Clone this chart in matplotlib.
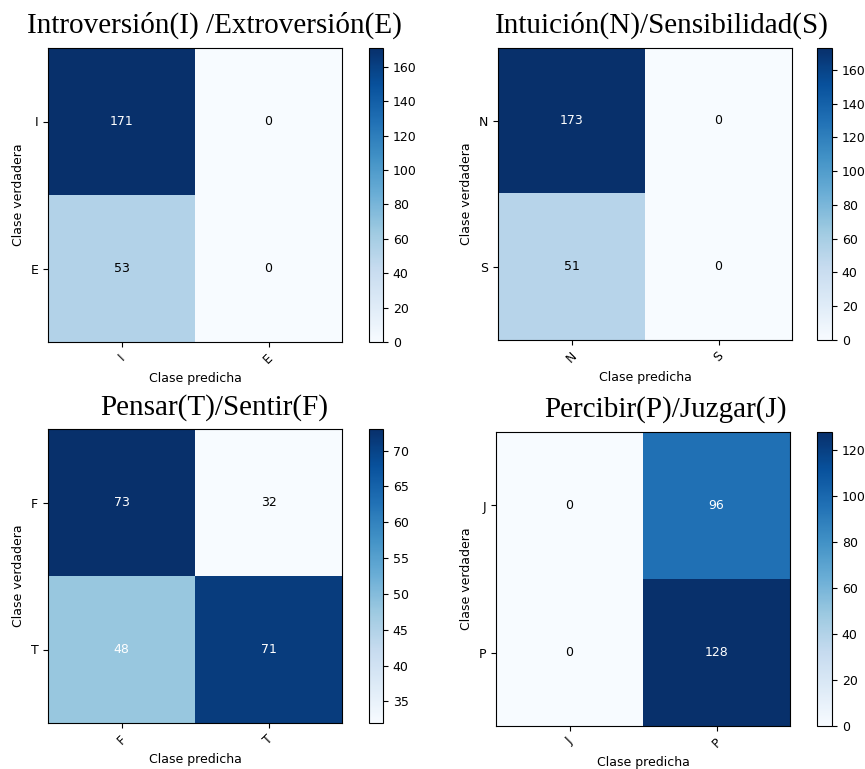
import numpy as np
import matplotlib
matplotlib.use("Agg")
import matplotlib.pyplot as plt

# confusion matrices for the four MBTI axes (rows: true, cols: predicted)
titles = ["Introversión(I) /Extroversión(E)",
          "Intuición(N)/Sensibilidad(S)",
          "Pensar(T)/Sentir(F)",
          "Percibir(P)/Juzgar(J)"]
classes_ie = ["I", "E"]
classes_ns = ["N", "S"]
classes_tf = ["F", "T"]
classes_jp = ["J", "P"]
cm_ie = [[171, 0], [53, 0]]
cm_ns = [[173, 0], [51, 0]]
cm_tf = [[73, 32], [48, 71]]
cm_jp = [[0, 96], [0, 128]]

W, H = 865, 769

def px(x0, y0, w, h):
    return [x0 / W, 1 - (y0 + h) / H, w / W, h / H]

def plot_cm(fig, cm, classes, title, ax_box, cb_box, title_xy):
    cm = np.array(cm)
    ax = fig.add_axes(px(*ax_box))
    cax = fig.add_axes(px(*cb_box))
    im = ax.imshow(cm, interpolation="nearest", cmap=plt.cm.Blues, aspect="auto")
    cb = fig.colorbar(im, cax=cax)
    cb.ax.tick_params(labelsize=9)
    ticks = np.arange(len(classes))
    ax.set_xticks(ticks)
    ax.set_xticklabels(classes, rotation=45, fontsize=9)
    ax.set_yticks(ticks)
    ax.set_yticklabels(classes, fontsize=9)
    thresh = cm.max() / 2.
    for i in range(cm.shape[0]):
        for j in range(cm.shape[1]):
            ax.text(j, i, format(cm[i, j], "d"), ha="center", va="center",
                    fontsize=9, color="white" if cm[i, j] > thresh else "black")
    ax.set_ylabel("Clase verdadera", fontsize=9)
    ax.set_xlabel("Clase predicha", fontsize=9)
    fig.text(title_xy[0] / W, 1 - title_xy[1] / H, title, ha="center", va="center",
             fontsize=21, family="Liberation Serif")

fig = plt.figure(figsize=(W / 100, H / 100), dpi=100)
plot_cm(fig, cm_ie, classes_ie, titles[0], (48, 48, 294, 294), (369, 48, 14, 294), (214, 25))
plot_cm(fig, cm_ns, classes_ns, titles[1], (498, 48, 294, 292), (817, 48, 15, 292), (662, 25))
plot_cm(fig, cm_tf, classes_tf, titles[2], (48, 429, 294, 294), (369, 429, 14, 294), (214, 408))
plot_cm(fig, cm_jp, classes_jp, titles[3], (496, 432, 294, 294), (817, 432, 15, 294), (665, 410))
fig.savefig("out.png", dpi=100, facecolor="white")
